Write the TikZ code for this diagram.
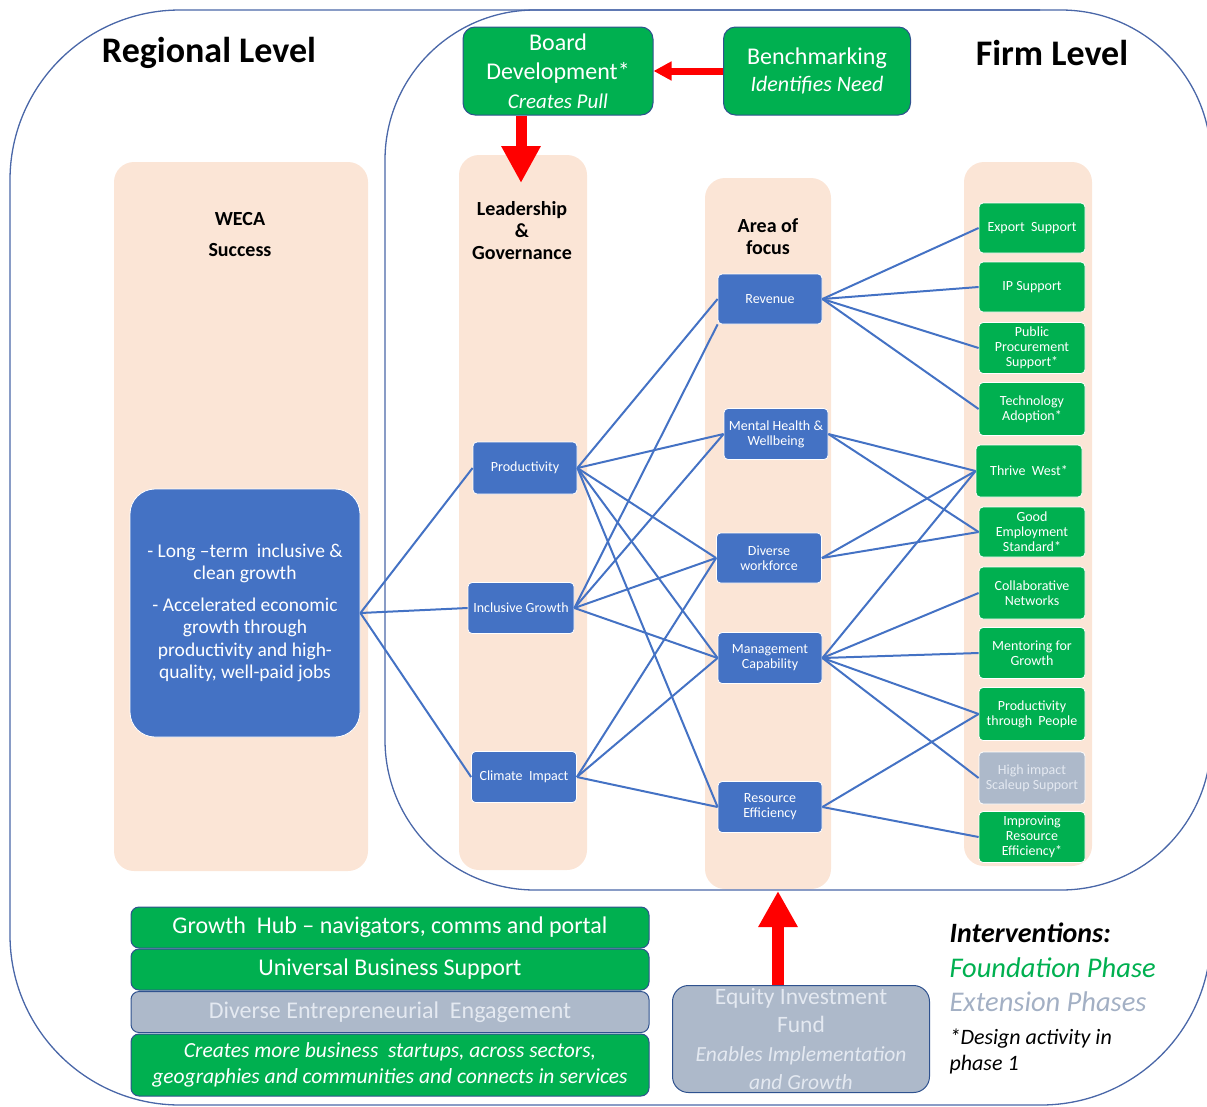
\documentclass[tikz,border=0pt]{standalone}
\usepackage{fontspec}
\setmainfont{Carlito}
\usetikzlibrary{arrows.meta}
\definecolor{peach}{HTML}{FBE5D6}
\definecolor{nodeblue}{HTML}{4472C4}
\definecolor{fgreen}{HTML}{00B050}
\definecolor{egrey}{HTML}{ADB9CA}
\definecolor{edgeblue}{HTML}{2F528F}
\definecolor{framecol}{HTML}{4A67A8}
\definecolor{paletext}{HTML}{E4E9F1}
\definecolor{legendgrey}{HTML}{A3B0C4}

\begin{document}
\begin{tikzpicture}[x=1pt,y=-1pt,
  sz/.style 2 args={minimum width=#1, minimum height=#2},
  column/.style={fill=peach, draw=none, rounded corners=20},
  levelframe/.style={draw=framecol, line width=1.3},
  smallfont/.style={font=\fontsize{14}{15}\selectfont},
  bluebox/.style={fill=nodeblue, draw=white, line width=0.8, rounded corners=4,
    text=white, align=center, inner sep=1, smallfont},
  greenbox/.style={fill=fgreen, draw=white, line width=0.8, rounded corners=4,
    text=white, align=center, inner sep=1, smallfont},
  greybox/.style={fill=egrey, draw=white, line width=0.8, rounded corners=4,
    text=paletext, align=center, inner sep=1, smallfont},
  bigbox/.style={draw=edgeblue, line width=1, rounded corners=10,
    text=white, align=center, inner sep=1},
  heading/.style={font=\fontsize{36}{42}\selectfont\bfseries},
  coltitle/.style={font=\fontsize{20}{22}\selectfont\bfseries, align=center},
  link/.style={draw=nodeblue, line width=2},
  redarrow/.style={draw=red, line width=#1},
]
\clip (0,0) rectangle (1207,1106);

% columns
\fill[column] (114,162) rectangle (368,871);
\fill[column] (459,155) rectangle (587,870);
\fill[column] (705,178) rectangle (831,889);
\fill[column] (964,162) rectangle (1092,866);

% level frames (the regional frame shares its top-right corner with the firm frame)
\draw[levelframe, rounded corners=170] (1211,500) -- (1211,1105) -- (10,1105) -- (10,10) -- (1040,10);
\draw[levelframe, rounded corners=150] (385,10) rectangle (1211,890);

% headings
\node[heading] (regional) at (209,53) {Regional Level};
\node[heading] (firm) at (1052,53) {Firm Level};
\node[coltitle] (weca) at (240,219) {WECA};
\node[coltitle] (success) at (240,250) {Success};
\node[coltitle] (lg) at (522,231) {Leadership\\\&\\Governance};
\node[coltitle] (aof) at (768,237) {Area of\\focus};

% regional outcome
\node[bluebox, sz={230}{248}, rounded corners=25, font=\fontsize{19.5}{22.5}\selectfont] (outcome) at (245,613)
  {- Long --term\ \ inclusive \&\\clean growth\\[9pt]- Accelerated economic\\growth through\\productivity and high-\\quality, well-paid jobs};

% leadership & governance
\node[bluebox, sz={104}{52}] (prod) at (525,468) {Productivity};
\node[bluebox, sz={106}{51}] (incl) at (521,608) {Inclusive Growth};
\node[bluebox, sz={105}{51}] (clim) at (524,777) {Climate\ \ Impact};

% area of focus
\node[bluebox, sz={104}{50}] (rev) at (770,299) {Revenue};
\node[bluebox, sz={104}{51}] (mh) at (776,434) {Mental Health\ \&\\Wellbeing};
\node[bluebox, sz={105}{50}] (div) at (769,558) {Diverse\\workforce};
\node[bluebox, sz={104}{51}] (mgmt) at (770,658) {Management\\Capability};
\node[bluebox, sz={104}{51}] (res) at (770,807) {Resource\\Efficiency};

% interventions
\node[greenbox, sz={106}{50}] (exp) at (1032,228) {Export\ \ Support};
\node[greenbox, sz={106}{50}] (ip) at (1032,287) {IP Support};
\node[greenbox, sz={106}{51}] (ppr) at (1032,348) {Public\\Procurement\\Support*};
\node[greenbox, sz={106}{53}] (tech) at (1032,409) {Technology\\Adoption*};
\node[greenbox, sz={106}{52}] (thr) at (1029,471) {Thrive\ \ West*};
\node[greenbox, sz={106}{50}] (ges) at (1032,532) {Good\\Employment\\Standard*};
\node[greenbox, sz={106}{52}] (coll) at (1032,593) {Collaborative\\Networks};
\node[greenbox, sz={106}{51}] (ment) at (1032,653) {Mentoring for\\Growth};
\node[greenbox, sz={106}{53}] (ptp) at (1032,714) {Productivity\\through\ \ People};
\node[greybox, sz={106}{52}] (hi) at (1032,778) {High impact\\Scaleup Support};
\node[greenbox, sz={106}{51}] (ire) at (1032,837) {Improving\\Resource\\Efficiency*};

% top boxes
\node[bigbox, fill=fgreen, sz={190}{88}, rounded corners=12, font=\fontsize{24}{29}\selectfont] (board) at (558,71)
  {Board\\Development*\\{\fontsize{21}{29}\selectfont\itshape Creates Pull}};
\node[bigbox, fill=fgreen, sz={187}{88}, rounded corners=12, font=\fontsize{24}{27}\selectfont] (bench) at (817,71)
  {Benchmarking\\{\fontsize{22}{27}\selectfont\itshape Identifies Need}};

% bottom stack
\node[bigbox, fill=fgreen, sz={518}{41}, rounded corners=8, font=\fontsize{24}{26}\selectfont] (hub) at (390,927.5)
  {Growth\ \ Hub -- navigators, comms and portal};
\node[bigbox, fill=fgreen, sz={518}{41}, rounded corners=8, font=\fontsize{24}{26}\selectfont] (ubs) at (390,969.5)
  {Universal Business Support};
\node[bigbox, fill=egrey, text=paletext, sz={518}{41}, rounded corners=8, font=\fontsize{24}{26}\selectfont] (dee) at (390,1012)
  {Diverse Entrepreneurial\ \ Engagement};
\node[bigbox, fill=fgreen, sz={518}{62}, rounded corners=8, font=\fontsize{21.5}{26}\selectfont\itshape] (startups) at (390,1065)
  {Creates more business\ \ startups, across sectors,\\geographies and communities and connects in services};
\node[bigbox, fill=egrey, text=paletext, sz={257}{107}, rounded corners=16, font=\fontsize{23.5}{28.5}\selectfont] (equity) at (801,1039)
  {Equity Investment\\Fund\\{\fontsize{21.5}{26}\selectfont\itshape Enables Implementation}\\{\fontsize{21.5}{24}\selectfont\itshape and Growth}};

% legend
\node[anchor=west, font=\fontsize{28}{30}\selectfont\bfseries\itshape] (legtitle) at (946,933) {Interventions:};
\node[anchor=west, text=fgreen, font=\fontsize{28.5}{30}\selectfont\itshape] (legfound) at (946,968) {Foundation Phase};
\node[anchor=west, text=legendgrey, font=\fontsize{28.5}{30}\selectfont\itshape] (legext) at (946,1002) {Extension Phases};
\node[anchor=north west, align=left, font=\fontsize{22}{26}\selectfont\itshape] (legnote) at (946,1025) {*Design activity in\\phase 1};

% outcome to leadership & governance
\draw[link] (outcome.east) -- (prod.west);
\draw[link] (outcome.east) -- (incl.west);
\draw[link] (outcome.east) -- (clim.west);

% leadership & governance to area of focus
\foreach \t in {rev.west, mh.west, div.west, mgmt.west, res.west}
  \draw[link] (prod.east) -- (\t);
\foreach \t in {rev.south west, mh.west, div.west, mgmt.west}
  \draw[link] (incl.east) -- (\t);
\foreach \t in {div.west, mgmt.west, res.west}
  \draw[link] (clim.east) -- (\t);

% area of focus to interventions
\foreach \t in {exp, ip, ppr, tech}
  \draw[link] (rev.east) -- (\t.west);
\foreach \t in {thr, ges}
  \draw[link] (mh.east) -- (\t.west);
\foreach \t in {thr, ges}
  \draw[link] (div.east) -- (\t.west);
\foreach \t in {thr, coll, ment, ptp, hi}
  \draw[link] (mgmt.east) -- (\t.west);
\foreach \t in {ptp, ire}
  \draw[link] (res.east) -- (\t.west);

% red pull arrows
\coordinate (lgtip) at (521,183);
\coordinate (aoftip) at (778,891);
\draw[redarrow=7, -{Triangle[width=18pt, length=18pt]}] (bench.west) -- (board.east);
\draw[redarrow=11, -{Triangle[width=37pt, length=37pt]}] (board.south -| lgtip) -- (lgtip);
\draw[redarrow=12, -{Triangle[width=37pt, length=36pt]}] (equity.north -| aoftip) -- (aoftip);
\end{tikzpicture}
\end{document}
